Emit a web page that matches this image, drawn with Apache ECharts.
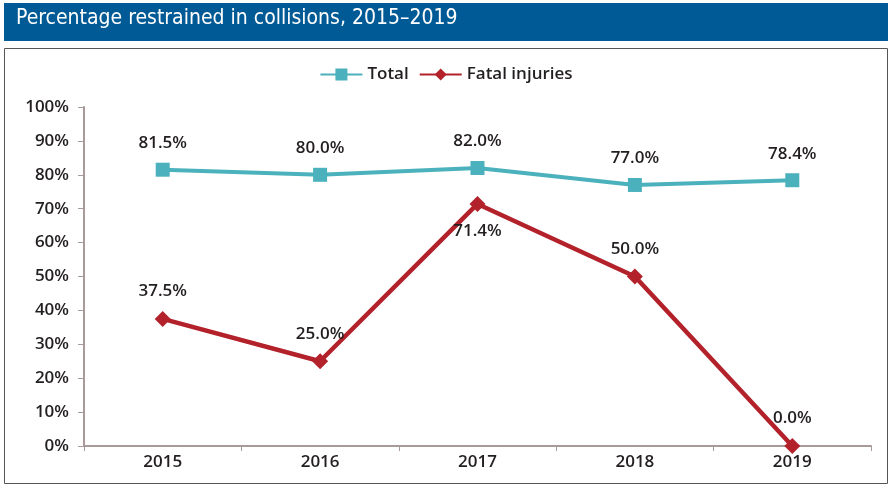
<!DOCTYPE html>
<html><head><meta charset="utf-8">
<script src="https://cdn.jsdelivr.net/npm/echarts@6/dist/echarts.min.js"></script>
<style>html,body{margin:0;padding:0;background:#fff}#c{width:892px;height:487px}</style>
</head><body><div id="c"></div>
<script>
const categories = ['2015','2016','2017','2018','2019'];
const totalValues = [81.5, 80.0, 82.0, 77.0, 78.4];
const fatalValues = [37.5, 25.0, 71.4, 50.0, 0.0];
const fatalLabelPos = ['top','top','bottom','top','top'];
const yTicks = [0,10,20,30,40,50,60,70,80,90,100];

const chart = echarts.init(document.getElementById('c'));
const FONT = '"Open Sans", Lato, sans-serif';
const TEAL = '#4bb1bc';
const RED = '#b3222b';
const INK = '#231f20';
chart.setOption({
  animation: false,
  textStyle: {fontFamily: FONT},
  graphic: [
    {type:'rect', shape:{x:4,y:3,width:884,height:38}, style:{fill:'#005a95'}},
    {type:'text', left:16, top:8, style:{text:'Percentage restrained in collisions, 2015\u20132019', fill:'#fff', font:'21px "Liberation Sans Narrow", "DejaVu Sans Condensed", sans-serif'}},
    {type:'rect', shape:{x:4.5,y:48.5,width:883,height:435}, style:{fill:'none', stroke:'#555', lineWidth:1}}
  ],
  legend: {
    top: 61, left: 'center',
    itemWidth: 42, itemHeight: 15, itemGap: 10,
    textStyle: {fontSize: 17, color: INK, fontFamily: FONT, fontWeight: 600},
    data: ['Total','Fatal injuries']
  },
  grid: {left: 84, right: 21, top: 107, bottom: 41},
  xAxis: {
    type: 'category', data: categories, boundaryGap: true,
    axisLine: {lineStyle: {color:'#a89a9a', width: 2}},
    axisTick: {show: true, alignWithLabel: false, length: 5, lineStyle:{color:'#a89a9a'}},
    axisLabel: {fontSize: 17, color: INK, margin: 8, fontFamily: FONT, fontWeight: 600}
  },
  yAxis: {
    type: 'value', min: 0, max: 100, interval: 10,
    axisLine: {show: true, lineStyle: {color:'#a89a9a', width: 2}},
    axisTick: {show: true, length: 6, lineStyle:{color:'#a89a9a'}},
    splitLine: {show: false},
    axisLabel: {fontSize: 17, color: INK, margin: 15, fontFamily: FONT, fontWeight: 600,
      formatter: v => yTicks.includes(v) ? v + '%' : ''}
  },
  series: [
    {
      name: 'Total', type: 'line', data: totalValues,
      symbol: 'rect', symbolSize: 14,
      lineStyle: {color: TEAL, width: 4},
      itemStyle: {color: TEAL},
      label: {show: true, position: 'top', distance: 11, fontSize: 17, color: INK, fontFamily: FONT, fontWeight: 600,
        formatter: p => p.value.toFixed(1) + '%'}
    },
    {
      name: 'Fatal injuries', type: 'line', data: fatalValues.map((v,i)=>({value:v, label:{position: fatalLabelPos[i]}})),
      symbol: 'diamond', symbolSize: 16,
      lineStyle: {color: RED, width: 4.5},
      itemStyle: {color: RED},
      label: {show: true, distance: 11, fontSize: 17, color: INK, fontFamily: FONT, fontWeight: 600,
        formatter: p => p.value.toFixed(1) + '%'}
    }
  ]
});
</script></body></html>
